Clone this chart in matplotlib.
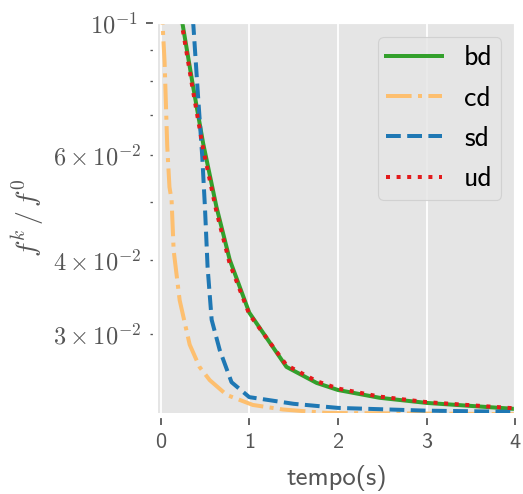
import numpy as np
import matplotlib
matplotlib.use("Agg")
import matplotlib.pyplot as plt
from matplotlib.ticker import FuncFormatter

plt.style.use("ggplot")
plt.rcParams['font.family'] = ['cmss10', 'DejaVu Sans']
plt.rcParams['mathtext.fontset'] = 'cm'
plt.rcParams['axes.unicode_minus'] = False

# curvas (tempo em s, f^k/f^0)
t_bd = [0.15, 0.25, 0.36, 0.48, 0.63, 0.78, 1.0, 1.42, 1.76, 2.0, 2.47, 3.0, 4.0]
f_bd = [0.120, 0.0992, 0.0793, 0.0628, 0.0491, 0.0400, 0.0326, 0.02642, 0.02483, 0.02416,
        0.02344, 0.02298, 0.02245]

t_cd = [0.0, 0.023, 0.045, 0.075, 0.10, 0.124, 0.147, 0.215, 0.328, 0.44, 0.554, 0.746, 1.04,
        1.38, 1.88, 3.0, 4.0]
f_cd = [0.150, 0.0992, 0.0860, 0.0620, 0.0530, 0.0504, 0.0415, 0.0342, 0.0288, 0.0264, 0.0251,
        0.0237, 0.0228, 0.0224, 0.0221, 0.02205, 0.0220]

t_sd = [0.30, 0.37, 0.42, 0.47, 0.50, 0.53, 0.576, 0.667, 0.80, 1.0, 1.5, 2.0, 3.0, 4.0]
f_sd = [0.130, 0.099, 0.0763, 0.0596, 0.0491, 0.0389, 0.0317, 0.0282, 0.02490, 0.0235, 0.0229,
        0.02254, 0.0223, 0.0222]

t_ud = [0.15, 0.25, 0.36, 0.48, 0.63, 0.78, 1.0, 1.42, 1.76, 2.0, 2.47, 3.0, 4.0]
f_ud = [0.118, 0.0975, 0.0778, 0.0615, 0.0482, 0.0394, 0.0324, 0.02660, 0.02500, 0.02430,
        0.02355, 0.02305, 0.02250]

minor_labels = [3, 4, 6]


def fmt_major(v, pos):
    e = int(np.round(np.log10(v)))
    return r'$\mathrm{10^{%d}}$' % e


def fmt_minor(v, pos):
    e = int(np.floor(np.log10(v) + 1e-9))
    m = int(np.round(v / 10.0 ** e))
    if m in minor_labels:
        return r'$\mathrm{%d\times10^{%d}}$' % (m, e)
    return ''


fig = plt.figure(figsize=(523 / 160, 494 / 160), dpi=160)
ax = fig.add_axes([0.302, 0.164, 0.683, 0.789])

lw = 1.8
ax.plot(t_bd, f_bd, color='#33a02c', ls='-', lw=lw, label='bd')
ax.plot(t_cd, f_cd, color='#fdbf6f', ls='-.', lw=lw, label='cd')
ax.plot(t_sd, f_sd, color='#1f78b4', ls='--', lw=lw, label='sd')
ax.plot(t_ud, f_ud, color='#e31a1c', ls=':', lw=lw, label='ud')

ax.set_yscale('log')
ax.set_xlim(-0.03, 4.0)
ax.set_ylim(0.0221, 0.1)
ax.set_xticks([0, 1, 2, 3, 4])
ax.yaxis.set_major_formatter(FuncFormatter(fmt_major))
ax.yaxis.set_minor_formatter(FuncFormatter(fmt_minor))

for s in ['left', 'bottom']:
    ax.spines[s].set_position(('outward', 2))

ax.set_xlabel('tempo(s)', fontsize=12, color='#555555', labelpad=6)
ax.set_ylabel(r'$f^k\,/\,f^0$', fontsize=12.5, color='#555555', labelpad=3)
ax.tick_params(axis='x', which='both', labelsize=10)
ax.tick_params(axis='y', which='both', labelsize=11)

ax.legend(loc='upper right', fontsize=12.5, handlelength=2.0, borderaxespad=0.5,
          labelspacing=0.55, handletextpad=0.8, borderpad=0.3)

fig.savefig("out.png", dpi=160)
